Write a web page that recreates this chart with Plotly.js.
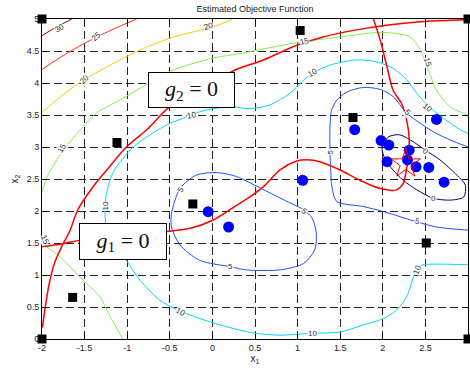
<!DOCTYPE html>
<html>
<head>
<meta charset="utf-8">
<script src="https://cdn.plot.ly/plotly-3.0.1.min.js"></script>
<style>html,body{margin:0;padding:0;background:#fff;}</style>
</head>
<body>
<div id="chart" style="width:470px;height:369px;"></div>
<script>
// ---- contour level lines ----
const c30x = [-2, -1.85, -1.65];
const c30y = [4.74, 4.86, 5.0];

const c25x = [-2, -1.75, -1.5, -1.34, -1.1, -0.89];
const c25y = [4.21, 4.43, 4.62, 4.73, 4.88, 5.0];

const c20x = [-2, -1.77, -1.54, -1.2, -0.89, -0.5, 0.01, 0.23];
const c20y = [3.54, 3.80, 4.02, 4.28, 4.49, 4.70, 4.88, 4.99];

const c15ax = [-2, -1.93, -1.75, -1.55, -1.36, -1.01, -0.5, 0.01, 0.32, 0.99, 1.5, 1.99, 2.32, 2.44, 2.52, 2.63, 2.79, 3.0];
const c15ay = [2.29, 2.56, 2.95, 3.27, 3.53, 3.79, 4.18, 4.39, 4.46, 4.63, 4.72, 4.79, 4.72, 4.52, 4.26, 3.89, 3.63, 3.5];

const c15bx = [-2, -1.9, -1.77, -1.52, -1.32, -1.2, -1.05];
const c15by = [1.48, 1.40, 1.26, 0.92, 0.66, 0.35, 0.0];

const c10x = [3.0, 2.91, 2.71, 2.52, 2.40, 2.28, 2.12, 1.93, 1.69, 1.38, 1.17, 1.05, 0.91, 0.68, 0.44, 0.21, -0.1, -0.38, -0.5, -0.72, -0.93, -1.05, -1.15, -1.21, -1.26, -1.25, -1.18, -1.02, -0.85, -0.62, -0.40, -0.15, 0.09, 0.32, 0.50, 0.79, 1.17, 1.50, 1.77, 2.01, 2.16, 2.28, 2.36, 2.42, 2.48, 2.63, 3.0];
const c10y = [3.21, 3.27, 3.45, 3.66, 3.84, 4.05, 4.23, 4.33, 4.36, 4.28, 4.15, 4.02, 3.84, 3.66, 3.60, 3.63, 3.57, 3.43, 3.37, 3.20, 3.0, 2.82, 2.64, 2.45, 2.12, 1.81, 1.55, 1.25, 0.92, 0.61, 0.45, 0.32, 0.22, 0.14, 0.09, 0.06, 0.09, 0.11, 0.22, 0.32, 0.45, 0.66, 0.97, 1.12, 1.16, 1.17, 1.16];

const c5ax = [-0.48, -0.38, -0.19, 0.05, 0.28, 0.56, 0.83, 1.07, 1.17, 1.22, 1.20, 1.07, 0.79, 0.40, 0.21, -0.15, -0.38, -0.48, -0.48];
const c5ay = [1.96, 2.35, 2.56, 2.60, 2.54, 2.36, 2.18, 2.02, 1.89, 1.65, 1.39, 1.18, 1.08, 1.08, 1.13, 1.23, 1.47, 1.75, 1.96];

const c5bx = [3.0, 2.79, 2.59, 2.44, 2.28, 2.12, 1.97, 1.77, 1.58, 1.46, 1.40, 1.38, 1.38, 1.39, 1.40, 1.46, 1.77, 2.01, 2.40, 2.63, 3.0];
const c5by = [3.0, 3.11, 3.24, 3.37, 3.53, 3.79, 3.90, 3.93, 3.86, 3.73, 3.58, 3.3, 2.95, 2.6, 2.40, 2.15, 2.07, 1.99, 1.83, 1.75, 1.70];

const c0x = [1.99, 2.07, 2.20, 2.36, 2.50, 2.67, 2.87, 2.97, 2.95, 2.79, 2.59, 2.40, 2.24, 2.12, 2.03, 1.99];
const c0y = [3.0, 3.16, 3.19, 3.08, 2.95, 2.80, 2.56, 2.40, 2.22, 2.17, 2.20, 2.33, 2.48, 2.64, 2.80, 3.0];

// ---- constraint boundaries (red) ----
const g2x = [-1.995, -1.95, -1.91, -1.85, -1.77, -1.67, -1.58, -1.40, -1.24, -1.01, -0.77, -0.50, -0.1, 0.26, 0.60, 0.99, 1.30, 1.69, 2.09, 2.48, 2.95, 3.0];
const g2y = [0.18, 0.6, 0.9, 1.2, 1.44, 1.70, 2.02, 2.38, 2.64, 3.0, 3.27, 3.63, 3.93, 4.20, 4.36, 4.59, 4.72, 4.83, 4.91, 4.96, 4.99, 5.0];

const g1x = [-2, -1.79, -1.57, -0.53, -0.26, 0.01, 0.32, 0.44, 0.60, 0.79, 0.99, 1.11, 1.26, 1.50, 1.73, 1.97, 2.16, 2.24, 2.27, 2.30, 2.31, 2.28, 2.22, 2.12, 2.05, 1.97, 1.89];
const g1y = [1.44, 1.48, 1.54, 1.68, 1.73, 1.86, 2.12, 2.22, 2.38, 2.64, 2.78, 2.80, 2.77, 2.64, 2.48, 2.35, 2.33, 2.43, 2.59, 2.85, 3.12, 3.42, 3.68, 3.89, 4.25, 4.67, 5.0];

// ---- sample points ----
const sqX = [-2, -2, 3, 3, 1.03, -1.12, 1.65, -0.23, -1.64, 2.51];
const sqY = [5, 0, 0, 5, 4.82, 3.07, 3.46, 2.11, 0.65, 1.50];

const dotX = [-0.05, 0.19, 1.06, 1.67, 1.98, 2.07, 2.31, 2.05, 2.29, 2.39, 2.54, 2.63, 2.72];
const dotY = [1.99, 1.75, 2.48, 3.27, 3.10, 3.03, 2.95, 2.77, 2.80, 2.69, 2.68, 3.43, 2.45];

const starX = [2.27];
const starY = [2.74];

// ---- contour labels ----
const labText  = ['30','25','20','20','15','15','15','15','10','10','10','10','10','10','10','5','5','5','5','5','5','0','0'];
const labX     = [-1.8,-1.36,-1.5,-0.05,-1.77,1.08,2.52,-1.97,-0.24,1.18,2.52,-1.26,-0.38,1.17,2.41,-0.37,1.08,0.21,1.38,2.29,2.41,2.50,2.60];
const labY     = [4.85,4.72,4.05,4.88,2.98,4.65,4.33,1.55,3.50,4.16,3.62,2.07,0.43,0.09,1.08,2.34,2.0,1.13,2.93,3.54,1.83,2.93,2.20];
const labAngle = [-30,-40,-45,-15,-60,-15,70,65,-10,-30,40,-90,30,0,-70,-60,40,0,-90,45,15,40,0];

// ---- axes ----
const xTicks = [-2, -1.5, -1, -0.5, 0, 0.5, 1, 1.5, 2, 2.5, 3];
const xTickText = ['-2','-1.5','-1','-0.5','0','0.5','1','1.5','2','2.5','3'];
const yTicks = [0, 0.5, 1, 1.5, 2, 2.5, 3, 3.5, 4, 4.5, 5];
const yTickText = ['0','0.5','1','1.5','2','2.5','3','3.5','4','4.5','5'];

function line(x, y, color, width) {
  return {type:'scatter', mode:'lines', x:x, y:y, line:{color:color, width:width, shape:'spline', smoothing:0.8}, hoverinfo:'skip', showlegend:false};
}

const traces = [
  line(c30x, c30y, '#800000', 1),
  line(c25x, c25y, '#ff3000', 1),
  line(c20x, c20y, '#ffc800', 1),
  line(c15ax, c15ay, '#80f050', 1),
  line(c15bx, c15by, '#80f050', 1),
  line(c10x, c10y, '#00d4ff', 1),
  line(c5ax, c5ay, '#1f4fff', 1),
  line(c5bx, c5by, '#1f4fff', 1),
  line(c0x, c0y, '#000080', 1),
  line(g2x, g2y, '#ff0000', 1.5),
  line(g1x, g1y, '#ff0000', 1.5),
  {type:'scatter', mode:'markers', x:dotX, y:dotY, marker:{color:'#0000ff', size:11, symbol:'circle'}, showlegend:false, hoverinfo:'skip'},
  {type:'scatter', mode:'markers', x:starX, y:starY, marker:{color:'#ff0000', size:22, symbol:'star-open', line:{color:'#ff0000', width:1}}, showlegend:false, hoverinfo:'skip'},
  {type:'scatter', mode:'markers', x:sqX, y:sqY, marker:{color:'#000000', size:9, symbol:'square'}, cliponaxis:false, showlegend:false, hoverinfo:'skip'}
];

const annotations = labText.map((t, i) => ({
  x: labX[i], y: labY[i], xref:'x', yref:'y', text: t, showarrow:false,
  textangle: labAngle[i], font:{size:8, color:'#333', family:'Liberation Sans, Arial'},
  bgcolor:'rgba(255,255,255,0.9)', borderpad:0
}));

annotations.push({
  x:-0.247, y:3.89, xref:'x', yref:'y', showarrow:false,
  text:'<i>g</i><sub>2</sub> = 0', font:{family:'Liberation Serif, DejaVu Serif, serif', size:22, color:'#111'},
  bgcolor:'#ffffff', bordercolor:'#000', borderwidth:1, borderpad:0, width:85, height:34
});
annotations.push({
  x:-1.048, y:1.531, xref:'x', yref:'y', showarrow:false,
  text:'<i>g</i><sub>1</sub> = 0', font:{family:'Liberation Serif, DejaVu Serif, serif', size:22, color:'#111'},
  bgcolor:'#ffffff', bordercolor:'#000', borderwidth:1, borderpad:0, width:86, height:35
});

const axisCommon = {
  showgrid:true, gridcolor:'#222', gridwidth:1, griddash:'8px,4px',
  zeroline:false, showline:true, linecolor:'#000', linewidth:1, mirror:'ticks',
  ticks:'inside', ticklen:5, tickcolor:'#000', tickwidth:1,
  tickfont:{size:9, color:'#222', family:'Liberation Sans, Arial'},
  tickmode:'array'
};

const layout = {
  width:470, height:369,
  margin:{l:42, r:2, t:19, b:30},
  paper_bgcolor:'#ffffff', plot_bgcolor:'#ffffff',
  font:{family:'Liberation Sans, Arial', size:9, color:'#222'},
  title:{text:'Estimated Objective Function', font:{size:9, color:'#222', family:'Liberation Sans, Arial'},
         xref:'paper', x:0.5, xanchor:'center', yref:'container', y:0.976, yanchor:'middle'},
  xaxis: Object.assign({}, axisCommon, {range:[-2,3], tickvals:xTicks, ticktext:xTickText,
         title:{text:'x<sub>1</sub>', font:{size:10, color:'#222'}, standoff:0}}),
  yaxis: Object.assign({}, axisCommon, {range:[0,5], tickvals:yTicks, ticktext:yTickText,
         title:{text:'x<sub>2</sub>', font:{size:10, color:'#222'}, standoff:6}}),
  annotations: annotations,
  showlegend:false
};

Plotly.newPlot('chart', traces, layout, {displayModeBar:false, staticPlot:true});
</script>
</body>
</html>
